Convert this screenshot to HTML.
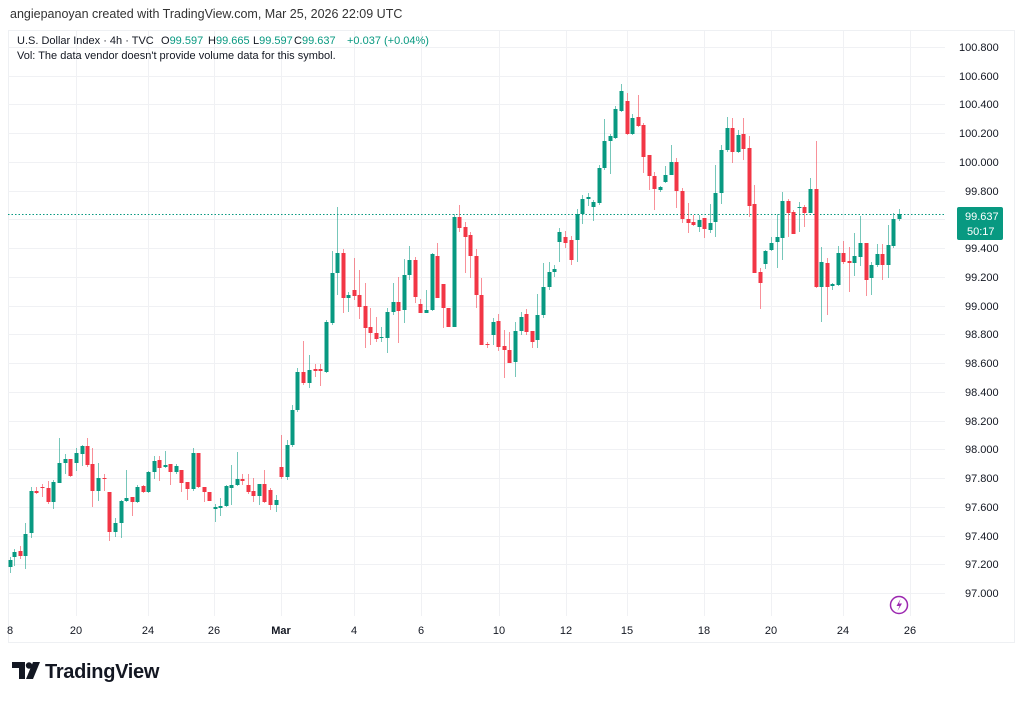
<!DOCTYPE html>
<html><head><meta charset="utf-8">
<style>
body{margin:0;background:#fff;width:1024px;height:699px;overflow:hidden;font-family:"Liberation Sans",sans-serif;}
</style></head>
<body>
<svg width="1024" height="699" viewBox="0 0 1024 699" xmlns="http://www.w3.org/2000/svg" font-family="Liberation Sans, sans-serif">
<rect x="0" y="0" width="1024" height="699" fill="#fff"/>
<text x="10" y="18" font-size="12.5" fill="#333">angiepanoyan created with TradingView.com, Mar 25, 2026 22:09 UTC</text>
<rect x="8.5" y="30.5" width="1006" height="612" fill="none" stroke="#eef0f3"/>
<g id="grid" stroke="#f0f1f4" stroke-width="1"></g>
<line x1="8" y1="214.5" x2="945" y2="214.5" stroke="#089981" stroke-dasharray="1.5,2" stroke-width="1"/>
<g id="candles"></g>
<g font-size="11">
<text x="17" y="44" fill="#131722">U.S. Dollar Index · 4h · TVC</text>
<text x="161" y="44" fill="#131722">O<tspan fill="#089981">99.597</tspan></text>
<text x="208" y="44" fill="#131722">H<tspan fill="#089981">99.665</tspan></text>
<text x="253" y="44" fill="#131722">L<tspan fill="#089981">99.597</tspan></text>
<text x="294" y="44" fill="#131722">C<tspan fill="#089981">99.637</tspan></text>
<text x="347" y="44" fill="#089981">+0.037 (+0.04%)</text>
</g>
<text x="17" y="59" font-size="11" fill="#131722">Vol: The data vendor doesn't provide volume data for this symbol.</text>
<g font-size="11" fill="#131722">
<text x="959" y="51">100.800</text>
<text x="959" y="80">100.600</text>
<text x="959" y="108">100.400</text>
<text x="959" y="137">100.200</text>
<text x="959" y="166">100.000</text>
<text x="965" y="195">99.800</text>
<text x="965" y="252">99.400</text>
<text x="965" y="281">99.200</text>
<text x="965" y="310">99.000</text>
<text x="965" y="338">98.800</text>
<text x="965" y="367">98.600</text>
<text x="965" y="396">98.400</text>
<text x="965" y="425">98.200</text>
<text x="965" y="453">98.000</text>
<text x="965" y="482">97.800</text>
<text x="965" y="511">97.600</text>
<text x="965" y="540">97.400</text>
<text x="965" y="568">97.200</text>
<text x="965" y="597">97.000</text>
</g>
<rect x="957" y="207" width="46" height="33" rx="2" fill="#089981"/>
<text x="965" y="220" font-size="11" fill="#fff">99.637</text>
<text x="967" y="235" font-size="11" fill="#fff">50:17</text>
<g font-size="11" fill="#131722" text-anchor="middle">
<text x="10" y="634">8</text>
<text x="76" y="634">20</text>
<text x="148" y="634">24</text>
<text x="214" y="634">26</text>
<text x="281" y="634" font-weight="bold">Mar</text>
<text x="354" y="634">4</text>
<text x="421" y="634">6</text>
<text x="499" y="634">10</text>
<text x="566" y="634">12</text>
<text x="627" y="634">15</text>
<text x="704" y="634">18</text>
<text x="771" y="634">20</text>
<text x="843" y="634">24</text>
<text x="910" y="634">26</text>
</g>
<circle cx="899" cy="605" r="8.5" fill="none" stroke="#9c27b0" stroke-width="1.5"/>
<path d="M900.5 599 L896.5 606 L899.5 606 L897.5 611 L902 603.5 L899 603.5 Z" fill="#9c27b0"/>
<g fill="#131722">
<path d="M12 662 H25 V679 H19 V668 H12 Z"/>
<circle cx="29" cy="665.5" r="3.2"/>
<path d="M33 662 H40 L33 679 H26 Z"/>
</g>
<text x="45" y="678" font-size="20" font-weight="bold" fill="#131722" letter-spacing="-0.3">TradingView</text>
</svg>
<script>
var ns="http://www.w3.org/2000/svg";
var g=document.getElementById('grid');
function ln(p,x1,y1,x2,y2,c,w,o){var l=document.createElementNS(ns,'line');l.setAttribute('x1',x1);l.setAttribute('y1',y1);l.setAttribute('x2',x2);l.setAttribute('y2',y2);if(c)l.setAttribute('stroke',c);if(w)l.setAttribute('stroke-width',w);if(o)l.setAttribute('stroke-opacity',o);p.appendChild(l);}
for(var i=0;i<20;i++){var y=Math.round(47+i*28.74)+0.5;ln(g,8,y,945,y);}
[76,148,214,281,354,421,499,566,627,704,771,843,910].forEach(function(x){ln(g,x+0.5,31,x+0.5,616);});
var d=[
[10,560,567,557,573,'g'],[14,552,557,549,566,'g'],[20,551,556,546,559,'r'],[25,534,556,523,569,'g'],[31,491,533,487,538,'g'],[36,491,493,487,494,'r'],[42,487,488,484,497,'r'],[48,488,502,481,504,'r'],[53,482,502,480,509,'g'],[59,463,483,438,483,'g'],[65,459,463,454,474,'g'],[70,459,476,459,477,'r'],[76,453,463,448,471,'g'],[82,446,454,445,466,'g'],[87,446,465,438,467,'r'],[92,464,491,448,507,'r'],[98,478,491,463,501,'g'],[104,478,479,474,491,'r'],[109,492,532,492,541,'r'],[115,523,532,518,537,'g'],[121,501,523,500,538,'g'],[126,498,501,470,502,'g'],[132,497,502,497,516,'r'],[137,487,502,485,503,'g'],[143,486,492,485,493,'r'],[148,472,492,471,493,'g'],[154,461,472,456,479,'g'],[159,460,468,456,481,'r'],[165,465,467,451,468,'g'],[170,464,472,464,485,'r'],[176,466,472,464,474,'g'],[181,470,483,470,492,'r'],[187,482,489,482,500,'r'],[193,453,489,448,491,'g'],[198,453,487,453,488,'r'],[204,487,492,487,502,'r'],[209,492,501,492,501,'r'],[215,507,509,504,522,'g'],[220,506,508,498,516,'g'],[226,486,506,485,507,'g'],[231,485,488,465,505,'g'],[237,479,485,452,486,'g'],[242,479,481,474,485,'r'],[248,485,492,474,494,'r'],[253,491,496,478,502,'r'],[259,484,496,484,505,'g'],[264,484,502,470,503,'r'],[270,490,505,488,510,'r'],[276,500,505,495,512,'g'],[281,467,477,435,479,'r'],[287,445,477,440,480,'g'],[292,410,445,405,447,'g'],[297,372,410,368,412,'g'],[303,372,383,341,385,'r'],[309,370,383,355,388,'g'],[315,369,371,364,377,'r'],[320,369,371,364,386,'r'],[326,322,372,320,373,'g'],[332,273,323,251,325,'g'],[337,253,273,207,295,'g'],[343,253,298,249,313,'r'],[348,295,298,292,312,'g'],[354,290,296,258,300,'r'],[359,295,307,270,319,'r'],[365,306,328,283,348,'r'],[370,327,333,308,345,'r'],[376,333,339,317,342,'r'],[381,337,338,327,342,'g'],[387,312,338,308,353,'g'],[393,302,312,283,315,'g'],[398,302,311,277,343,'r'],[404,275,310,259,323,'g'],[409,260,275,246,280,'g'],[415,260,297,257,303,'r'],[420,304,313,299,313,'r'],[426,310,313,290,313,'g'],[432,254,310,253,311,'g'],[437,256,298,243,298,'r'],[443,284,308,284,328,'r'],[448,308,327,308,327,'r'],[454,217,327,214,327,'g'],[459,217,228,205,232,'r'],[465,227,237,222,273,'r'],[470,235,256,232,278,'r'],[476,256,295,249,308,'r'],[481,295,345,278,345,'r'],[487,344,345,342,348,'r'],[493,322,335,318,345,'g'],[498,321,347,314,351,'r'],[504,346,350,330,378,'r'],[509,350,363,332,363,'r'],[515,331,362,322,377,'g'],[521,317,331,312,335,'g'],[526,314,332,309,335,'r'],[532,331,342,331,348,'r'],[537,315,340,294,348,'g'],[543,287,315,263,318,'g'],[549,272,287,262,290,'g'],[554,269,272,265,277,'g'],[559,232,242,228,262,'g'],[565,237,243,231,248,'r'],[571,240,260,236,265,'r'],[577,214,240,209,262,'g'],[582,199,214,195,224,'g'],[588,197,199,193,206,'g'],[593,202,207,200,221,'g'],[599,168,203,165,205,'g'],[604,141,168,119,170,'g'],[610,136,141,134,174,'g'],[615,109,138,106,139,'g'],[621,91,111,84,112,'g'],[627,101,134,93,135,'r'],[632,118,134,114,135,'g'],[638,117,126,95,127,'r'],[643,125,157,123,173,'r'],[649,155,176,155,190,'r'],[654,176,189,172,210,'r'],[660,187,190,186,192,'g'],[665,175,182,166,183,'g'],[671,162,175,145,175,'g'],[676,162,191,158,208,'r'],[682,191,219,188,223,'r'],[688,219,223,203,233,'r'],[693,222,225,215,226,'r'],[699,220,227,215,232,'g'],[704,218,229,218,238,'r'],[710,223,230,204,233,'g'],[715,193,222,165,237,'g'],[721,150,193,145,204,'g'],[727,128,150,117,152,'g'],[732,128,152,118,163,'r'],[738,135,152,130,153,'g'],[743,134,149,118,160,'r'],[749,148,206,136,217,'r'],[754,204,273,185,273,'r'],[760,272,283,268,309,'r'],[765,251,264,250,269,'g'],[771,243,250,237,251,'g'],[777,237,242,214,268,'g'],[782,201,238,192,260,'g'],[788,201,213,199,237,'r'],[793,212,234,210,234,'r'],[799,207,208,202,232,'g'],[804,207,213,205,227,'r'],[810,189,213,178,213,'g'],[816,189,287,141,288,'r'],[821,262,287,247,322,'g'],[827,263,287,258,315,'r'],[832,284,286,283,290,'g'],[838,253,285,246,286,'g'],[843,253,262,241,264,'r'],[849,261,263,247,292,'r'],[854,256,263,233,276,'g'],[860,243,257,216,266,'g'],[866,243,280,243,296,'r'],[871,265,278,262,295,'g'],[877,254,265,244,267,'g'],[882,254,265,244,280,'r'],[888,245,265,225,278,'g'],[893,219,246,213,248,'g'],[899,214,219,209,221,'g']];
var cg=document.getElementById('candles');
d.forEach(function(c){var col=c[5]=='g'?'#089981':'#F23645';
ln(cg,c[0]+0.5,c[3],c[0]+0.5,c[4],col,1,0.55);
var r=document.createElementNS(ns,'rect');r.setAttribute('x',c[0]-1.5);r.setAttribute('y',c[1]);r.setAttribute('width',4);r.setAttribute('height',Math.max(1,c[2]-c[1]));r.setAttribute('fill',col);cg.appendChild(r);});
</script>
</body></html>
